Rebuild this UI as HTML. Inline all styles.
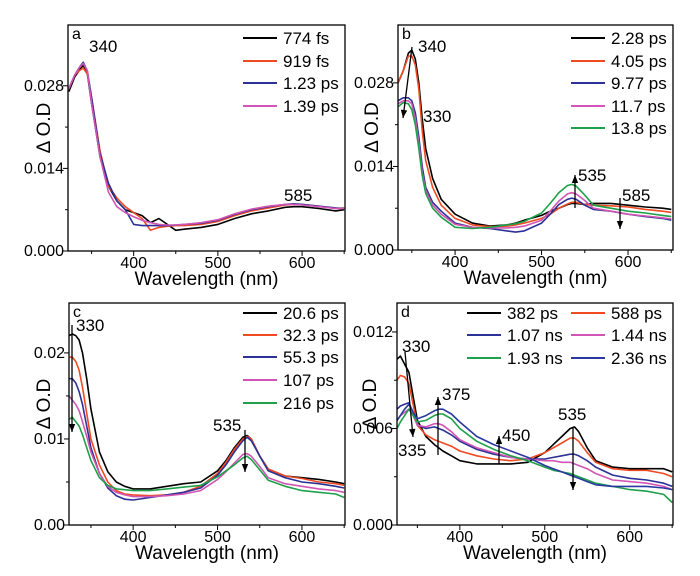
<!DOCTYPE html>
<html><head><meta charset="utf-8"><style>
html,body{margin:0;padding:0;background:#fff}
svg{display:block;font-family:"Liberation Sans",Arial,sans-serif}
</style></head><body>
<svg id="fig" width="700" height="576" viewBox="0 0 700 576"></svg>
<script>
// ---- data (ΔO.D values in units of 1e-3) ----
const wlA=[323,330,335,340,345,350,360,370,380,390,400,410,420,430,440,450,460,480,500,520,540,560,580,590,600,620,640,650];
const a774=[27,29.5,30.5,31.5,30,25,16,11,8.5,7,6.5,6,4.8,5.5,4.5,3.5,3.7,4,4.5,5.5,6.3,6.8,7.4,7.5,7.5,7.2,6.8,7];
const a919=[27.5,29.8,30.5,31,30,26,17,11,9,7.5,6.5,5.5,3.5,4,4.2,4.3,4.3,4.5,5,6,6.8,7.3,7.8,7.9,7.9,7.6,7.2,7.3];
const a123=[27.5,29.8,31,32,30.5,26,16.5,11.5,8.5,7,4.5,4.3,4.3,4.3,4.3,4.4,4.5,4.7,5.2,6.2,7,7.5,7.9,8,7.9,7.6,7.3,7.2];
const a139=[27.5,29.8,31,31.8,30.5,25,16,10,7.5,6.5,5.8,5.2,4.8,4.5,4.4,4.4,4.5,4.8,5.3,6.3,7.1,7.6,7.9,7.9,7.8,7.5,7.2,7.2];
const labelsA=["774 fs","919 fs","1.23 ps","1.39 ps"];

const wlB=[334,340,346,350,354,358,362,366,374,384,400,420,440,460,470,480,500,510,520,530,535,540,550,560,580,600,620,640,650];
const b228=[28,30,33,33.5,32,28,22,17,12,8.5,6,4.5,4,4.2,4.5,5,5.8,6.5,7,7.6,7.8,7.8,7.6,7.8,7.8,7.5,7.2,7,6.8];
const b405=[28,30,32.5,32.5,31,27,20,15,10.5,7.5,5.3,4.2,3.9,4,4.2,4.5,5.3,6,7,7.7,8,8,7.6,7.5,7.4,7.2,6.8,6.5,6.3];
const b977=[25,25.5,25.5,25,23,19,14,10.5,8,6.5,4.5,3.8,3.6,3.2,3,3.2,4.5,6,7.6,8.5,8.7,8.5,7.5,6.8,6.5,6,5.6,5.3,5];
const b117=[24.5,25,25,24.5,22,18,13,10,7.5,6,4.3,3.8,3.7,3.7,3.8,4,5,6.5,8.2,9.4,9.6,9.4,8.3,7,6.5,6,5.7,5.4,5.2];
const b138=[24,24.7,24.5,23.5,21,17,12.5,9.5,7,5.5,3.8,3.6,3.8,4.2,4.4,4.8,6.2,7.8,9.6,10.8,11,10.7,9.2,7.5,7,6.5,6.2,5.8,5.6];
const labelsB=["2.28 ps","4.05 ps","9.77 ps","11.7 ps","13.8 ps"];

const wlC=[324,328,332,336,340,345,350,360,370,380,390,400,420,440,460,480,500,510,520,530,535,540,550,560,580,600,620,640,650];
const c206=[22,22.2,22,21.5,20,17,13.5,8.5,6.2,5,4.5,4.2,4.2,4.5,4.8,5,6.3,7.5,9,10.2,10.4,10,8,6.5,5.7,5.5,5.3,5,4.8];
const c323=[19.5,19.5,19,18,16,13,10,7,5,4,3.6,3.5,3.4,3.5,3.8,4.5,6,7.3,8.8,10,10.3,10,8,6.5,5.7,5.4,5,4.8,4.6];
const c553=[17,17,16.5,15.5,14,11.5,9,6,4.3,3.4,3,2.9,3.2,3.5,3.8,4.3,5.8,7,8.5,9.8,10.2,9.8,8,6.3,5.5,5,4.8,4.5,4.3];
const c107=[15,14.5,14,13.3,12,10.3,8.5,6,4.5,3.8,3.5,3.3,3.3,3.4,3.6,4,5.3,6.2,7.2,8.2,8.3,8,6.8,5.5,4.8,4.5,4.2,4,3.8];
const c216=[12.3,12.5,12,11.5,10.5,9,7.5,5.5,4.6,4.2,4.1,4,4,4.2,4.4,4.6,5.6,6.3,7,7.8,8,7.6,6.4,5.2,4.5,4,3.8,3.6,3.2];
const labelsC=["20.6 ps","32.3 ps","55.3 ps","107 ps","216 ps"];

const wlD=[326,330,335,340,345,350,360,370,375,380,390,400,420,440,460,480,500,510,520,530,535,540,550,560,580,600,620,640,650];
const d382=[10.3,10.5,10,9.5,8,6.5,5.5,5,4.8,4.6,4.3,4,3.8,3.8,3.8,3.9,4.5,5,5.5,6,6.1,5.8,4.8,4,3.6,3.5,3.5,3.5,3.3];
const d588=[9,9.3,9.2,8.8,7.5,6.2,5.6,5.3,5.2,5.1,4.9,4.6,4.3,4.1,4,4.1,4.5,4.8,5.1,5.4,5.4,5.2,4.5,3.9,3.5,3.4,3.4,3.2,3];
const d107=[7.2,7.4,7.5,7.6,7,6.2,6,6.1,6,5.9,5.6,5.2,4.7,4.4,4.2,4.1,4.1,4.2,4.3,4.4,4.4,4.3,4,3.6,3.1,2.9,2.8,2.6,2.4];
const d144=[6.5,6.8,7,7.2,6.8,6.2,6.1,6.3,6.3,6.2,5.8,5.3,4.8,4.5,4.2,4.1,4,4,3.9,3.9,3.8,3.7,3.5,3.2,2.8,2.7,2.6,2.4,2.2];
const d193=[6,6.4,6.8,7.2,6.8,6.4,6.5,6.8,6.9,6.9,6.6,6,5.2,4.7,4.3,4,3.6,3.4,3.3,3.2,3.1,3,2.8,2.6,2.4,2.2,2.1,1.9,1.4];
const d236=[6.5,6.8,7.2,7.5,7,6.6,6.8,7.1,7.2,7.2,6.9,6.4,5.5,5,4.6,4.2,3.7,3.5,3.3,3.1,3,2.9,2.7,2.5,2.4,2.4,2.4,2.3,2.2];
const labelsD=["382 ps","588 ps","1.07 ns","1.44 ns","1.93 ns","2.36 ns"];
const xTicks=[400,500,600];

const K="#000",R="#f04a22",B="#2b3196",M="#d055b4",G="#1fa04a";
const NS="http://www.w3.org/2000/svg";
const svg=document.getElementById('fig');
function mk(tag,attrs,parent,name){
  const e=document.createElementNS(NS,tag);
  for(const k in attrs)e.setAttribute(k,attrs[k]);
  
  
  (parent||svg).appendChild(e);return e;
}
function txt(x,y,s,parent,name,size,anchor){
  const t=mk('text',{x:x,y:y,'font-size':size||17,'text-anchor':anchor||'start',fill:'#000'},parent,name);
  t.textContent=s;return t;
}
function arrow(x1,y1,x2,y2,parent,name){
  const g=mk('g',{},parent,name);
  mk('line',{x1:x1,y1:y1,x2:x2,y2:y2,stroke:'#000','stroke-width':1.3},g,name+'-shaft');
  const a=Math.atan2(y2-y1,x2-x1),L=8,w=3.2;
  const p=[[x2,y2],[x2-L*Math.cos(a)+w*Math.sin(a),y2-L*Math.sin(a)-w*Math.cos(a)],[x2-L*Math.cos(a)-w*Math.sin(a),y2-L*Math.sin(a)+w*Math.cos(a)]];
  mk('polygon',{points:p.map(q=>q.join(',')).join(' '),fill:'#000'},g,name+'-head');
}
function panel(o){
  const g=mk('g',{},svg,'panel-'+o.id);
  const sx=v=>o.l+(v-o.x0)/(o.x1-o.x0)*(o.r-o.l);
  const sy=v=>o.b-(v-o.y0)/(o.y1-o.y0)*(o.b-o.t);
  const clip=mk('clipPath',{id:'clip'+o.id},g,'clip-'+o.id);
  mk('rect',{x:o.l,y:o.t,width:o.r-o.l,height:o.b-o.t},clip,'clip-rect');
  const sg=mk('g',{'clip-path':'url(#clip'+o.id+')'},g,'series-group-'+o.id);
  o.series.forEach((s,i)=>{
    const pts=o.wl.map((w,j)=>sx(w).toFixed(1)+','+sy(s.v[j]).toFixed(1)).join(' ');
    mk('polyline',{points:pts,fill:'none',stroke:s.c,'stroke-width':1.6,'stroke-linejoin':'round'},sg,'series-'+o.id+'-'+o.labels[i].replace(/[ .]/g,'-'));
  });
  mk('rect',{x:o.l,y:o.t,width:o.r-o.l,height:o.b-o.t,fill:'none',stroke:'#000','stroke-width':1.3},g,'plot-frame-'+o.id);
  for(let v=350;v<=650;v+=50){
    const X=sx(v),len=(v%100===0)?5:3;
    mk('line',{x1:X,y1:o.b,x2:X,y2:o.b+len,stroke:'#000','stroke-width':1},g,'x-tick');
  }
  xTicks.forEach(v=>txt(sx(v),o.b+17,String(v),g,'x-tick-label',16,'middle'));
  o.yt.forEach((v,i)=>{
    const Y=sy(v);
    mk('line',{x1:o.l-5,y1:Y,x2:o.l,y2:Y,stroke:'#000','stroke-width':1},g,'y-tick');
    txt(o.l-4,Y+5,o.ytl[i],g,'y-tick-label',16,'end');
    if(i<o.yt.length-1){const Ym=sy((v+o.yt[i+1])/2);mk('line',{x1:o.l-3,y1:Ym,x2:o.l,y2:Ym,stroke:'#000','stroke-width':1},g,'y-minor-tick');}
  });
  txt((o.l+o.r)/2,o.b+34,'Wavelength (nm)',g,'x-axis-title',19,'middle');
  const yt=txt(0,0,'Δ O.D',g,'y-axis-title',19,'middle');
  yt.setAttribute('transform','translate('+o.yx+','+((o.t+o.b)/2-10)+') rotate(-90)');
  txt(o.l+4,o.t+14,o.id,g,'panel-letter',16);
  o.legend.forEach((L,i)=>{
    mk('line',{x1:L[0],y1:L[1],x2:L[0]+34,y2:L[1],stroke:o.series[i].c,'stroke-width':2},g,'legend-swatch');
    txt(L[0]+40,L[1]+6,o.labels[i],g,'legend-entry',17);
  });
  return {g,sx,sy};
}
const pa=panel({id:'a',l:68,r:345,t:25,b:251,x0:322,x1:651,y0:0,y1:38.3,yt:[0,14,28],ytl:['0.000','0.014','0.028'],yx:50,wl:wlA,
 series:[{v:a774,c:K},{v:a919,c:R},{v:a123,c:B},{v:a139,c:M}],labels:labelsA,
 legend:[[243,38],[243,61],[243,83],[243,106]]});
txt(89,52,'340',pa.g,'peak-label-340',17);
txt(284,201,'585',pa.g,'peak-label-585',17);
const pb=panel({id:'b',l:398,r:673,t:25,b:250,x0:334,x1:652,y0:0,y1:37.7,yt:[0,14,28],ytl:['0.000','0.014','0.028'],yx:378,wl:wlB,
 series:[{v:b228,c:K},{v:b405,c:R},{v:b977,c:B},{v:b117,c:M},{v:b138,c:G}],labels:labelsB,
 legend:[[571,38],[571,61],[571,83],[571,106],[571,128]]});
txt(418,52,'340',pb.g,'peak-label-340',17);
txt(423,122,'330',pb.g,'peak-label-330',17);
arrow(412,47,403,118,pb.g,'arrow-340-decay');
txt(578,181,'535',pb.g,'peak-label-535',17);
arrow(575,208,575,175,pb.g,'arrow-535-rise');
txt(622,201,'585',pb.g,'peak-label-585',17);
arrow(620,198,620,229,pb.g,'arrow-585-decay');
const pc=panel({id:'c',l:69,r:345,t:303,b:525,x0:324,x1:651,y0:0,y1:25.8,yt:[0,10,20],ytl:['0.00','0.01','0.02'],yx:50,wl:wlC,
 series:[{v:c206,c:K},{v:c323,c:R},{v:c553,c:B},{v:c107,c:M},{v:c216,c:G}],labels:labelsC,
 legend:[[243,313],[243,335],[243,357],[243,380],[243,403]]});
txt(76,331,'330',pc.g,'peak-label-330',17);
arrow(72,325,72,432,pc.g,'arrow-330-decay');
txt(213,431,'535',pc.g,'peak-label-535',17);
arrow(245,430,245,472,pc.g,'arrow-535-decay');
const pd=panel({id:'d',l:397,r:673,t:303,b:525,x0:326,x1:651,y0:0,y1:13.8,yt:[0,6,12],ytl:['0.000','0.006','0.012'],yx:376,wl:wlD,
 series:[{v:d382,c:K},{v:d588,c:R},{v:d107,c:B},{v:d144,c:M},{v:d193,c:G},{v:d236,c:'#2a39a0'}],labels:labelsD,
 legend:[[467,313],[571,313],[467,335],[571,335],[467,358],[571,358]]});
txt(402,352,'330',pd.g,'peak-label-330',17);
arrow(405,352,413,437,pd.g,'arrow-330-decay');
txt(398,456,'335',pd.g,'peak-label-335',17);
txt(442,400,'375',pd.g,'peak-label-375',17);
arrow(438,455,438,397,pd.g,'arrow-375-rise');
txt(502,441,'450',pd.g,'peak-label-450',17);
arrow(499,464,499,436,pd.g,'arrow-450-rise');
txt(558,420,'535',pd.g,'peak-label-535',17);
arrow(573,427,573,490,pd.g,'arrow-535-decay');
</script>
</body></html>
